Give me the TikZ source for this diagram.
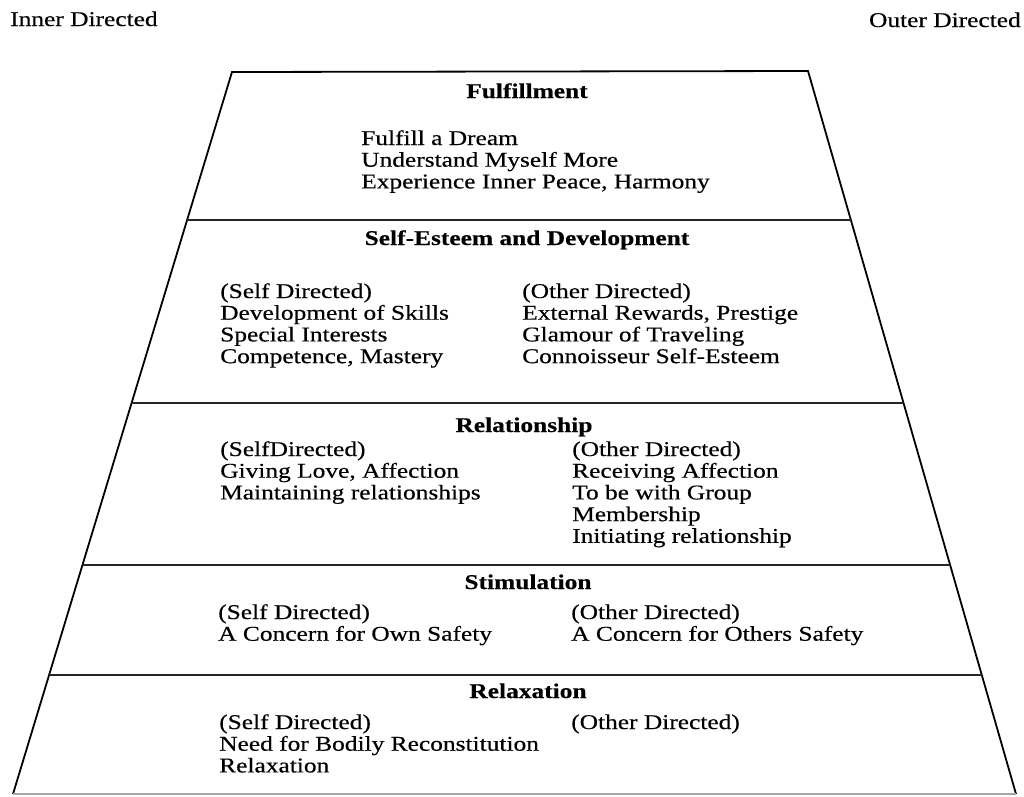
\documentclass[tikz,border=0pt]{standalone}
\usepackage{fontspec}
\setmainfont{Liberation Serif}[FakeBold=0.35]
\usetikzlibrary{calc}
\newcommand{\lines}[1]{\begin{tabular}[t]{@{}l@{}}#1\end{tabular}}
\begin{document}
\begin{tikzpicture}[x=1pt,y=-1pt,
  edge/.style={line width=1.8pt, line join=miter},
  divider/.style={line width=1.8pt, black!85},
  baseline/.style={line width=1.6pt, black!35},
  txt/.style={anchor=base west, inner sep=0pt, xscale=1.21, font=\fontsize{21}{21.7}\selectfont},
  head/.style={anchor=base, inner sep=0pt, xscale=1.21, font=\fontsize{21}{21.7}\selectfont\bfseries}]
\useasboundingbox[fill=white] (0,0) rectangle (1024,796);
% outline
\coordinate (TL) at (232,72);
\coordinate (TR) at (808,71);
\coordinate (BL) at (13,794);
\coordinate (BR) at (1016,794);
\draw[edge] (BL) -- (TL) -- (TR) -- (BR);
\draw[baseline] (BL) -- (BR);
% dividers
\foreach \y [count=\i] in {220,403,565,675}{
  \coordinate (L\i) at ($(TL)!{(\y-72)/722}!(BL)$);
  \coordinate (R\i) at ($(TR)!{(\y-71)/723}!(BR)$);
  \draw[divider] (L\i) -- (R\i);
}
% corner labels
\node[txt] (inner) at (10,26) {Inner Directed};
\node[txt, anchor=base east] (outer) at (1021,27) {Outer Directed};
% Fulfillment
\node[head] (h1) at (527,98) {Fulfillment};
\node[txt] (f1) at (361,145) {\lines{Fulfill a Dream\\Understand Myself More\\Experience Inner Peace, Harmony}};
% Self-Esteem
\node[head] (h2) at (527,245) {Self-Esteem and Development};
\node[txt] (s1) at (220,298) {\lines{(Self Directed)\\Development of Skills\\Special Interests\\Competence, Mastery}};
\node[txt] (s2) at (522,298) {\lines{(Other Directed)\\External Rewards, Prestige\\Glamour of Traveling\\Connoisseur Self-Esteem}};
% Relationship
\node[head] (h3) at (524,432) {Relationship};
\node[txt] (r1) at (220,456) {\lines{(SelfDirected)\\Giving Love, Affection\\Maintaining relationships}};
\node[txt] (r2) at (572,456) {\lines{(Other Directed)\\Receiving Affection\\To be with Group\\Membership\\Initiating relationship}};
% Stimulation
\node[head] (h4) at (528,589) {Stimulation};
\node[txt] (t1) at (218,619) {\lines{(Self Directed)\\A Concern for Own Safety}};
\node[txt] (t2) at (571,619) {\lines{(Other Directed)\\A Concern for Others Safety}};
% Relaxation
\node[head] (h5) at (528,698) {Relaxation};
\node[txt] (x1) at (219,729) {\lines{(Self Directed)\\Need for Bodily Reconstitution\\Relaxation}};
\node[txt] (x2) at (571,729) {(Other Directed)};
\end{tikzpicture}
\end{document}
